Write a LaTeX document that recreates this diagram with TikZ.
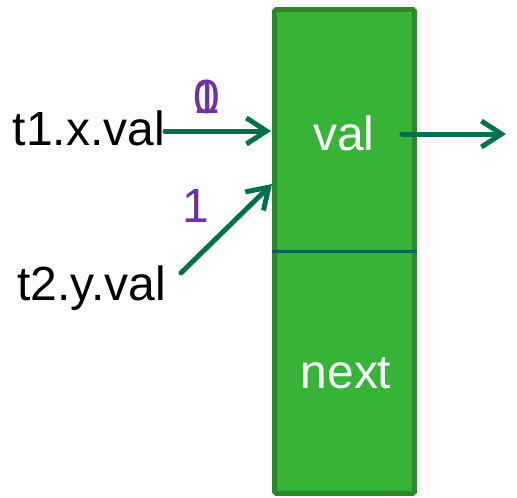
\documentclass[tikz,border=0pt]{standalone}
\usepackage{fontspec}
\setmainfont{Liberation Sans}
\usepackage{xcolor}
\usepackage{tikz}
\usetikzlibrary{arrows.meta}
\definecolor{cellgreen}{HTML}{37B337}
\definecolor{celledge}{HTML}{2A8A2A}
\definecolor{ptrgreen}{HTML}{00704F}
\definecolor{splitteal}{HTML}{00665A}
\definecolor{stamp}{HTML}{7030A0}

\begin{document}
\begin{tikzpicture}[
    x=0.02cm, y=-0.02cm,
    cell/.style={
      rectangle,
      rounded corners=1pt,
      draw=celledge,
      line width=0.1cm,
      fill=cellgreen,
      minimum width=2.8cm,
      minimum height=9.68cm
    },
    txt/.style={inner sep=0pt, font=\fontsize{27.3}{31}\selectfont},
    field/.style={txt, text=white, anchor=base},
    var/.style={txt, anchor=base east},
    stampnum/.style={txt, text=stamp, anchor=base},
    ptr/.style={-{Straight Barb[length=0.4cm, width=0.52cm]}, line width=0.1cm,
      line cap=round, draw=ptrgreen}
  ]
    \useasboundingbox (0,0) rectangle (517,497);

    % the list node with its two fields
    \node[cell] (cell) at (344.5,251.5) {};
    \draw[splitteal, line width=0.07cm] (cell.west) -- (cell.east);
    \node[field] (val) at (344,150) {val};
    \node[field] (next) at (346,388) {next};

    % where the two writes land
    \coordinate (in1) at (271,131);
    \coordinate (in2) at (272,184);
    \coordinate (out) at (506,134);

    \node[var] (t1) at (165,145) {t1.x.val};
    \node[var] (t2) at (166,300) {t2.y.val};

    \draw[ptr] (t1.east |- in1) -- (in1);
    \draw[ptr, shorten <=0.42cm] (t2.east) -- (in2);
    \draw[ptr] (cell.east |- out) ++(-15,0) -- (out);

    % version numbers, 0 overwritten by 1
    \node[stampnum] (v0) at (207,113) {0};
    \node[stampnum] (v0b) at (207,113) {1};
    \node[stampnum] (v1) at (196,222) {1};
  \end{tikzpicture}
\end{document}
